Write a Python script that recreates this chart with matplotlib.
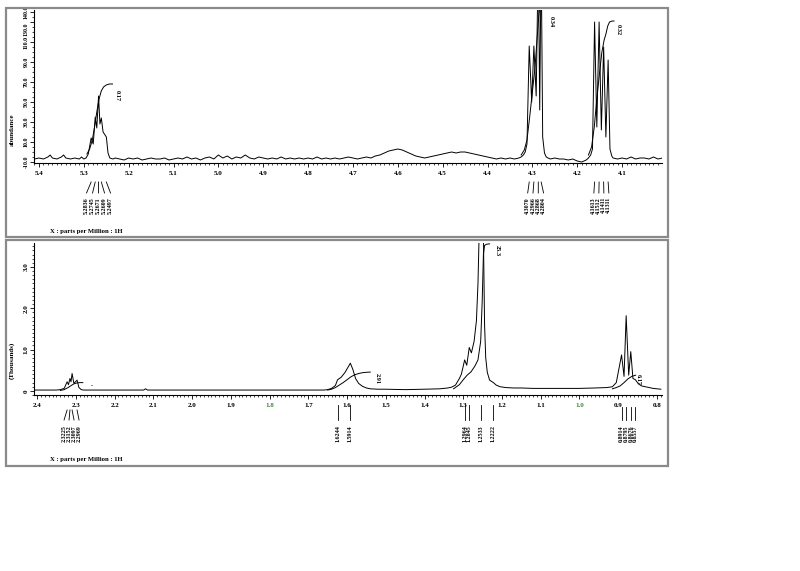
import matplotlib
matplotlib.use("Agg")
import matplotlib.pyplot as plt
from matplotlib.patches import Rectangle
from matplotlib.ticker import FixedLocator, MultipleLocator, FormatStrFormatter, FuncFormatter

plt.rcParams['font.family'] = ['Liberation Serif', 'DejaVu Serif']
plt.rcParams['font.weight'] = 'bold'

# ---------------- top panel: 5.4 - 4.0 ppm (abundance) ----------------
TOP_PPM = [5.41, 5.40, 5.39, 5.38, 5.375, 5.37, 5.36, 5.35, 5.345, 5.34, 5.33, 5.32, 5.31, 5.305, 5.30,
           5.295, 5.290, 5.2836, 5.279, 5.2745, 5.271, 5.2671, 5.264, 5.2609, 5.257, 5.2497, 5.246, 5.242,
           5.235, 5.23, 5.22, 5.21, 5.20, 5.19, 5.18, 5.17, 5.16, 5.15, 5.14, 5.13, 5.12, 5.11, 5.10, 5.09,
           5.08, 5.07, 5.06, 5.05, 5.04, 5.03, 5.02, 5.01, 5.00, 4.99, 4.98, 4.97, 4.96, 4.95, 4.94, 4.93,
           4.92, 4.91, 4.90, 4.89, 4.88, 4.87, 4.86, 4.85, 4.84, 4.83, 4.82, 4.81, 4.80, 4.79, 4.78, 4.77,
           4.76, 4.75, 4.74, 4.73, 4.72, 4.71, 4.70, 4.69, 4.68, 4.67, 4.66, 4.65, 4.64, 4.63, 4.62, 4.61,
           4.60, 4.59, 4.58, 4.57, 4.56, 4.55, 4.54, 4.53, 4.52, 4.51, 4.50, 4.49, 4.48, 4.47, 4.46, 4.45,
           4.44, 4.43, 4.42, 4.41, 4.40, 4.39, 4.38, 4.37, 4.36, 4.35, 4.34, 4.33, 4.325, 4.320, 4.316,
           4.312, 4.3070, 4.3015, 4.2966, 4.2915, 4.2868, 4.2836, 4.2804, 4.277, 4.273, 4.269, 4.265, 4.26,
           4.25, 4.24, 4.23, 4.22, 4.21, 4.20, 4.19, 4.18, 4.175, 4.17, 4.166, 4.1613, 4.1563, 4.1512,
           4.1462, 4.1411, 4.1361, 4.1311, 4.127, 4.123, 4.12, 4.11, 4.10, 4.09, 4.08, 4.07, 4.06, 4.05,
           4.04, 4.03, 4.02, 4.01]
TOP_ABUND = [-7, -6, -7, -5, -3, -6, -7, -5, -3, -6, -7, -6, -7, -5, -7,
             -6, -2, 14, 8, 35, 24, 56, 28, 34, 20, 15, -1, -6,
             -7, -6, -7, -8, -6, -7, -6, -8, -7, -6, -7, -7, -6, -8, -7, -6,
             -7, -5, -7, -6, -8, -6, -5, -7, -3, -6, -4, -7, -5, -6, -3, -6,
             -7, -5, -6, -7, -6, -7, -5, -7, -6, -7, -6, -7, -6, -7, -5, -7,
             -6, -7, -6, -7, -6, -5, -6, -7, -6, -5, -6, -4, -3, -1, 1, 2,
             3, 2, 0, -2, -4, -5, -6, -5, -4, -3, -2, -1, 0, -1, 0, 0,
             -1, -2, -3, -4, -5, -6, -7, -6, -7, -6, -7, -6, -5, -3, 0,
             8, 106, 50, 106, 56, 200, 42, 200, 15, -1, -5, -6, -7,
             -6, -7, -7, -8, -7, -9, -10, -8, -6, -3, 3, 130, 25, 130,
             22, 105, 15, 92, 3, -4, -6, -7, -6, -7, -5, -7, -6, -6,
             -7, -5, -7, -6]

# integral traces (top)
INT1_PPM = [5.293, 5.287, 5.281, 5.276, 5.271, 5.266, 5.261, 5.256, 5.250, 5.243, 5.236]
INT1_VAL = [-2, 3, 12, 25, 40, 53, 61, 65, 67, 68, 68]
INT2_PPM = [4.325, 4.318, 4.312, 4.306, 4.300, 4.294, 4.290, 4.286, 4.282, 4.278, 4.272, 4.268]
INT2_VAL = [-3, 2, 12, 35, 60, 85, 110, 135, 150, 160, 165, 165]
INT3_PPM = [4.175, 4.168, 4.162, 4.156, 4.150, 4.145, 4.140, 4.136, 4.132, 4.128, 4.122, 4.118]
INT3_VAL = [-3, 5, 25, 55, 80, 100, 112, 118, 126, 130, 131, 131]
TOP_INT_LABELS = ['0.17', '0.34', '0.32']
TOP_INT_LABEL_PPM = [5.226, 4.259, 4.108]
TOP_INT_LABEL_VAL = [57, 130, 122]

TOP_PEAK_GROUPS = [[5.2836, 5.2745, 5.2671, 5.2609, 5.2497],
                   [4.3070, 4.2966, 4.2868, 4.2804],
                   [4.1613, 4.1512, 4.1411, 4.1311]]
TOP_YTICKS = [-10, 10, 30, 50, 70, 90, 110, 130, 140]

# ---------------- bottom panel: 2.4 - 0.8 ppm (thousands) ----------------
BOT_PPM = [2.41, 2.40, 2.38, 2.36, 2.35, 2.34, 2.33, 2.3225, 2.319, 2.3152, 2.3125, 2.3097, 2.305,
           2.2969, 2.292, 2.286, 2.28, 2.26, 2.24, 2.22, 2.20, 2.18, 2.16, 2.14, 2.125, 2.12, 2.115,
           2.10, 2.05, 2.00, 1.95, 1.90, 1.85, 1.80, 1.75, 1.70, 1.66, 1.65, 1.64, 1.63, 1.6244, 1.615,
           1.605, 1.597, 1.5914, 1.585, 1.578, 1.570, 1.560, 1.550, 1.54, 1.52, 1.50, 1.45, 1.40, 1.36,
           1.34, 1.33, 1.32, 1.31, 1.305, 1.300, 1.2964, 1.291, 1.2845, 1.279, 1.272, 1.266, 1.262,
           1.259, 1.2533, 1.248, 1.245, 1.242, 1.238, 1.232, 1.2222, 1.215, 1.205, 1.19, 1.17, 1.15,
           1.12, 1.10, 1.05, 1.00, 0.96, 0.93, 0.915, 0.905, 0.8914, 0.885, 0.8795, 0.873, 0.8676,
           0.862, 0.8557, 0.848, 0.84, 0.83, 0.82, 0.81, 0.80, 0.79]
BOT_THOUSANDS = [0.02, 0.02, 0.02, 0.02, 0.02, 0.03, 0.06, 0.22, 0.15, 0.30, 0.22, 0.42, 0.18,
                 0.26, 0.08, 0.03, 0.02, 0.02, 0.02, 0.02, 0.02, 0.02, 0.02, 0.02, 0.02, 0.05, 0.02,
                 0.02, 0.02, 0.02, 0.02, 0.02, 0.02, 0.02, 0.02, 0.02, 0.02, 0.03, 0.06, 0.13, 0.27, 0.33,
                 0.45, 0.58, 0.67, 0.52, 0.30, 0.18, 0.11, 0.07, 0.05, 0.04, 0.04, 0.03, 0.04, 0.05,
                 0.07, 0.09, 0.14, 0.30, 0.40, 0.60, 0.75, 0.62, 1.05, 0.92, 1.2, 1.7, 2.6,
                 3.8, 9.0, 3.8, 1.6, 0.8, 0.45, 0.26, 0.20, 0.14, 0.10, 0.08, 0.07, 0.07,
                 0.06, 0.06, 0.06, 0.06, 0.07, 0.08, 0.10, 0.20, 0.87, 0.35, 1.82, 0.38, 0.95,
                 0.30, 0.27, 0.17, 0.12, 0.10, 0.08, 0.06, 0.05, 0.04]

BINT1_PPM = [2.340, 2.330, 2.320, 2.312, 2.305, 2.298, 2.290, 2.282]
BINT1_VAL = [0.01, 0.03, 0.08, 0.13, 0.17, 0.19, 0.20, 0.20]
BINT2_PPM = [1.650, 1.640, 1.630, 1.620, 1.610, 1.600, 1.590, 1.580, 1.570, 1.560, 1.550, 1.540]
BINT2_VAL = [0.02, 0.04, 0.08, 0.14, 0.20, 0.27, 0.34, 0.39, 0.42, 0.44, 0.45, 0.455]
BINT3_PPM = [1.325, 1.310, 1.300, 1.290, 1.280, 1.270, 1.262, 1.255, 1.251, 1.248, 1.245, 1.240, 1.232]
BINT3_VAL = [0.05, 0.15, 0.27, 0.38, 0.46, 0.60, 0.75, 1.2, 2.2, 3.3, 3.52, 3.55, 3.56]
BINT4_PPM = [0.915, 0.905, 0.895, 0.885, 0.875, 0.865, 0.855]
BINT4_VAL = [0.05, 0.08, 0.12, 0.20, 0.29, 0.35, 0.38]
BOT_INT_LABELS = ['-', '2.91', '25.3', '6.17']
BOT_INT_LABEL_PPM = [2.258, 1.523, 1.212, 0.849]
BOT_INT_LABEL_VAL = [0.12, 0.31, 3.40, 0.28]
BOT_INT_LABEL_ROT = [0, -90, -90, -90]

BOT_PEAK_GROUPS = [[2.3225, 2.3152, 2.3097, 2.2969],
                   [1.6244, 1.5914],
                   [1.2964, 1.2845, 1.2533, 1.2222],
                   [0.8914, 0.8795, 0.8676, 0.8557]]
BOT_YTICKS = [0, 1, 2, 3]
GREEN_LABELS = ['1.8', '1.0']

W, H = 800, 571
fig = plt.figure(figsize=(8, 5.71), dpi=100)

ax1 = fig.add_axes([34 / W, 1 - 163 / H, 628 / W, 153 / H])
ax2 = fig.add_axes([34 / W, 1 - 395 / H, 628 / W, 152 / H])

# panel frames
for top, bot in [(8, 237), (240, 466)]:
    fig.patches.append(Rectangle((6 / W, 1 - bot / H), 662 / W, (bot - top) / H,
                                 transform=fig.transFigure, fill=False,
                                 ec='#8a8a8a', lw=1.6))

lw = 0.7
ax1.plot(TOP_PPM, TOP_ABUND, color='black', lw=lw)
for xs, ys in [(INT1_PPM, INT1_VAL), (INT2_PPM, INT2_VAL), (INT3_PPM, INT3_VAL)]:
    ax1.plot(xs, ys, color='black', lw=lw)
for t, x, y in zip(TOP_INT_LABELS, TOP_INT_LABEL_PPM, TOP_INT_LABEL_VAL):
    ax1.text(x, y, t, rotation=-90, fontsize=4.5, ha='center', va='center')

ax2.plot(BOT_PPM, BOT_THOUSANDS, color='black', lw=lw)
for xs, ys in [(BINT1_PPM, BINT1_VAL), (BINT2_PPM, BINT2_VAL),
               (BINT3_PPM, BINT3_VAL), (BINT4_PPM, BINT4_VAL)]:
    ax2.plot(xs, ys, color='black', lw=lw)
for t, x, y, r in zip(BOT_INT_LABELS, BOT_INT_LABEL_PPM, BOT_INT_LABEL_VAL, BOT_INT_LABEL_ROT):
    ax2.text(x, y, t, rotation=r, fontsize=4.5, ha='center', va='center')

ax1.set_xlim(5.411, 4.011)
ax1.set_ylim(-11, 142)
ax2.set_xlim(2.408, 0.787)
ax2.set_ylim(-0.1, 3.58)


def style_axis(ax):
    for s in ['top', 'right']:
        ax.spines[s].set_visible(False)
    for s in ['left', 'bottom']:
        ax.spines[s].set_linewidth(0.8)
    ax.xaxis.set_major_locator(MultipleLocator(0.1))
    ax.xaxis.set_minor_locator(MultipleLocator(0.01))
    ax.xaxis.set_major_formatter(FormatStrFormatter('%.1f'))
    ax.tick_params(which='major', direction='out', length=3, width=0.6, labelsize=5, pad=2.5)
    ax.tick_params(which='minor', direction='out', length=1.5, width=0.5)
    ax.tick_params(axis='y', pad=1)


style_axis(ax1)
style_axis(ax2)

ax1.yaxis.set_major_locator(FixedLocator(TOP_YTICKS))
ax1.yaxis.set_major_formatter(FormatStrFormatter('%.1f'))
ax1.yaxis.set_minor_locator(MultipleLocator(5))
ax1.tick_params(axis='y', labelsize=4.2)
ax2.yaxis.set_major_locator(FixedLocator(BOT_YTICKS))
ax2.yaxis.set_major_formatter(FuncFormatter(lambda v, p: '0' if v == 0 else '%.1f' % v))
ax2.yaxis.set_minor_locator(MultipleLocator(0.1))

for ax in (ax1, ax2):
    for lab in ax.get_yticklabels():
        lab.set_rotation(90)
        lab.set_va('center')

fig.canvas.draw()
for lab in ax1.get_yticklabels():
    if lab.get_text() == '130.0':
        lab.set_va('top')
for lab in ax2.get_xticklabels():
    if lab.get_text() in GREEN_LABELS:
        lab.set_color('#3d8a3d')


def peak_labels(ax, groups, spacing_px, px_per_ppm, y1s, y2, y3):
    trans = ax.get_xaxis_transform()
    for grp, sp, y1 in zip(groups, spacing_px, y1s):
        n = len(grp)
        if sp:
            mid = sum(grp) / n
            step = sp / px_per_ppm
            pos = [mid + ((n - 1) / 2 - i) * step for i in range(n)]
        else:
            pos = list(grp)
        for p, q in zip(grp, pos):
            ax.plot([p, q], [y1, y2], color='black', lw=0.6, transform=trans, clip_on=False)
            ax.text(q, y3, '%.4f' % p, rotation=90, fontsize=4.3, ha='center', va='top',
                    transform=trans, clip_on=False)


top_y1 = (163 - 182) / 153
peak_labels(ax1, TOP_PEAK_GROUPS, [6, 5.3, 5], 448.5,
            [top_y1] * 3, (163 - 193) / 153, (163 - 197) / 153)
peak_labels(ax2, BOT_PEAK_GROUPS, [5, None, None, None], 387.5,
            [(395 - 410) / 152, (395 - 405) / 152, (395 - 405) / 152, (395 - 407) / 152],
            (395 - 420) / 152, (395 - 425) / 152)

fig.text(12 / W, 1 - 130 / H, 'abundance', rotation=90, fontsize=5, ha='center', va='center')
fig.text(12 / W, 1 - 360 / H, '(Thousands)', rotation=90, fontsize=5, ha='center', va='center')
fig.text(50 / W, 1 - 231 / H, 'X : parts per Million : 1H', fontsize=4.8, ha='left', va='center')
fig.text(50 / W, 1 - 459 / H, 'X : parts per Million : 1H', fontsize=4.8, ha='left', va='center')

fig.savefig('out.png', dpi=100)
